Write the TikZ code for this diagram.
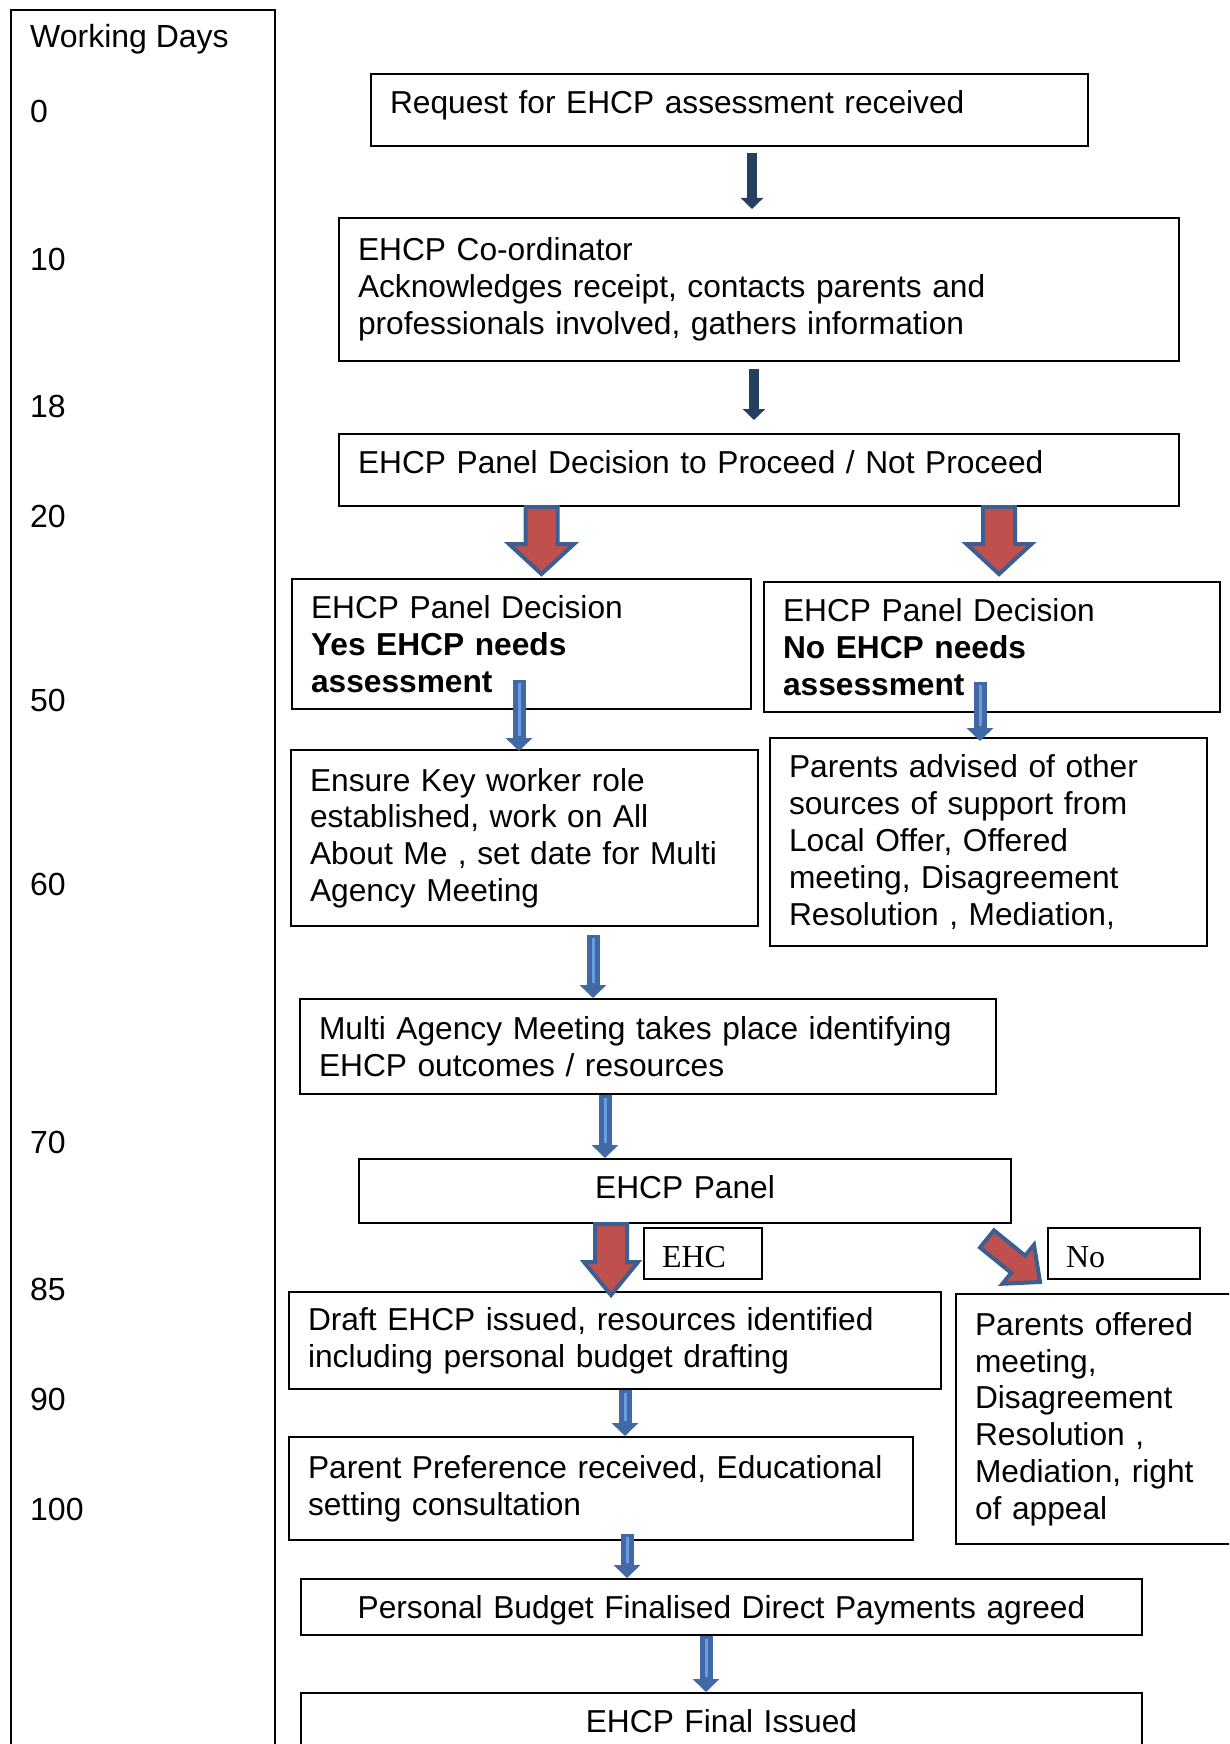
\documentclass[tikz,border=0pt]{standalone}
\usepackage{fontspec}
\setmainfont{Liberation Sans}
\newfontfamily\fuenteSerif{Liberation Serif}
\usetikzlibrary{arrows.meta, calc}
\definecolor{azulOscuro}{HTML}{243F60}
\definecolor{azulAcero}{HTML}{4169A5}
\definecolor{azulClaro}{HTML}{6A9BDF}
\definecolor{rojoBloque}{HTML}{C0504D}
\definecolor{bordeBloque}{HTML}{3B5F91}
\tikzset{
  cajaBase/.style={
    draw=black, line width=2pt, anchor=north west,
    inner xsep=19pt, inner ysep=0pt, align=left,
    font=\fontsize{31.7}{36.8}\selectfont
  },
  cajaCentro/.style={cajaBase, align=center},
  cajaEtiqueta/.style={cajaBase, inner xsep=18pt, text height=27pt, text depth=0pt,
    font=\fuenteSerif\fontsize{32}{36.8}\selectfont},
  dias/.style={anchor=west, inner sep=0pt, font=\fontsize{32}{36.8}\selectfont},
  flechaOscura/.style={-{Triangle[width=22pt, length=11pt]}, line width=10pt, azulOscuro},
  flechaAzul/.style={-{Triangle[width=26pt, length=13pt]}, line width=13pt, azulAcero,
    postaction={draw=azulClaro, line width=3pt, -, shorten >=15pt, shorten <=3pt}},
  bloqueRojo/.style={fill=rojoBloque, draw=bordeBloque, line width=4pt, line join=miter},
}
\newcommand{\flechaRoja}[5]{%
  \draw[bloqueRojo] #1 ++(-#2,0) -- ++(0,#4) -- ++({#2-#3},0) -- ++(#3,#5)
    -- ++(#3,-#5) -- ++({#2-#3},0) -- ++(0,-#4) -- cycle;
}

\begin{document}
\begin{tikzpicture}[x=1pt, y=-1pt]
    \useasboundingbox (0,0) rectangle (1229,1744);
    \clip (0,0) rectangle (1229,1744);
    \node[draw=black, line width=2pt, anchor=north west, inner sep=0pt,
          minimum width=264pt, minimum height=1760pt] (columnaDias) at (10,9) {};
    \node[dias] (tituloDias) at (30,39) {Working Days};
    \node[dias] (dia0) at (30,111) {0};
    \node[dias] (dia10) at (30,259) {10};
    \node[dias] (dia18) at (30,406) {18};
    \node[dias] (dia20) at (30,516) {20};
    \node[dias] (dia50) at (30,700) {50};
    \node[dias] (dia60) at (30,884) {60};
    \node[dias] (dia70) at (30,1142) {70};
    \node[dias] (dia85) at (30,1289) {85};
    \node[dias] (dia90) at (30,1399) {90};
    \node[dias] (dia100) at (30,1509) {100};

    \node[cajaBase, text width=679pt, minimum height=72pt, text depth=15pt] (solicitud) at (370,73)
      {Request for EHCP assessment received};
    \node[cajaBase, text width=802pt, minimum height=143pt] (coordinador) at (338,217)
      {EHCP Co-ordinator\\Acknowledges receipt, contacts parents and\\professionals involved, gathers information};
    \node[cajaBase, text width=802pt, minimum height=72pt, text depth=16pt] (decision) at (338,433)
      {EHCP Panel Decision to Proceed / Not Proceed};
    \node[cajaBase, text width=421pt, minimum height=130pt] (siEvaluacion) at (291,578)
      {EHCP Panel Decision\\\textbf{Yes EHCP needs}\\\textbf{assessment}};
    \node[cajaBase, text width=418pt, minimum height=130pt] (noEvaluacion) at (763,581)
      {EHCP Panel Decision\\\textbf{No EHCP needs}\\\textbf{assessment}};
    \node[cajaBase, text width=429pt, minimum height=176pt] (trabajador) at (290,749)
      {Ensure Key worker role\\established, work on All\\About Me , set date for Multi\\Agency Meeting};
    \node[cajaBase, text width=399pt, minimum height=208pt] (apoyoPadres) at (769,737)
      {Parents advised of other\\sources of support from\\Local Offer, Offered\\meeting, Disagreement\\Resolution , Mediation,};
    \node[cajaBase, text width=658pt, minimum height=95pt] (reunion) at (299,998)
      {Multi Agency Meeting takes place identifying\\EHCP outcomes / resources};
    \node[cajaCentro, text width=614pt, minimum height=64pt, text depth=8pt] (panel) at (358,1158) {EHCP Panel};
    \node[cajaEtiqueta, text width=82pt, minimum height=51pt] (etiquetaEHC) at (643,1227) {EHC};
    \node[cajaEtiqueta, text width=116pt, minimum height=51pt] (etiquetaNo) at (1047,1227) {No};
    \node[cajaBase, text width=614pt, minimum height=97pt] (borrador) at (288,1291)
      {Draft EHCP issued, resources identified\\including personal budget drafting};
    \node[cajaBase, text width=252pt, minimum height=250pt] (ofrecidos) at (955,1293)
      {Parents offered\\meeting,\\Disagreement\\Resolution ,\\Mediation, right\\of appeal};
    \node[cajaBase, text width=586pt, minimum height=103pt] (preferencia) at (288,1436)
      {Parent Preference received, Educational\\setting consultation};
    \node[cajaCentro, text width=803pt, minimum height=56pt, text height=29pt] (presupuesto) at (300,1578)
      {Personal Budget Finalised Direct Payments agreed};
    \node[cajaCentro, text width=803pt, minimum height=56pt] (final) at (300,1692) {EHCP Final Issued};

    \draw[flechaOscura, shorten <=6pt, shorten >=8pt] (solicitud.south -| 752,0) -- (coordinador.north -| 752,0);
    \draw[flechaOscura, shorten <=7pt, shorten >=13pt] (coordinador.south -| 754,0) -- (decision.north -| 754,0);
    \flechaRoja{(decision.south -| 541.5,0)}{16}{32.5}{37}{30}
    \flechaRoja{(decision.south -| 999,0)}{16}{32.5}{37}{30}
    \draw[flechaAzul] ($(siEvaluacion.south -| 519,0)+(0,-30)$) -- ($(trabajador.north -| 519,0)+(0,2)$);
    \draw[flechaAzul] ($(noEvaluacion.south -| 980,0)+(0,-31)$) -- ($(apoyoPadres.north -| 980,0)+(0,4)$);
    \draw[flechaAzul] ($(trabajador.south -| 593,0)+(0,8)$) -- (reunion.north -| 593,0);
    \draw[flechaAzul] (reunion.south -| 605,0) -- (panel.north -| 605,0);
    \flechaRoja{(panel.south -| 611,0)}{16}{27}{38}{33}
    \draw[bloqueRojo] ($(panel.south east)+(-25,15)$) ++(-6.95,8.57) -- ++(31.2,25.3) -- ++(-8.85,10.9)
      -- ++(37.6,-1.8) -- ++(-6.0,-37.2) -- ++(-8.85,10.9) -- ++(-31.2,-25.3) -- cycle;
    \draw[flechaAzul] (borrador.south -| 625,0) -- (preferencia.north -| 625,0);
    \draw[flechaAzul] ($(preferencia.south -| 627,0)+(0,-7)$) -- (presupuesto.north -| 627,0);
    \draw[flechaAzul] (presupuesto.south -| 706,0) -- (final.north -| 706,0);
\end{tikzpicture}
\end{document}
